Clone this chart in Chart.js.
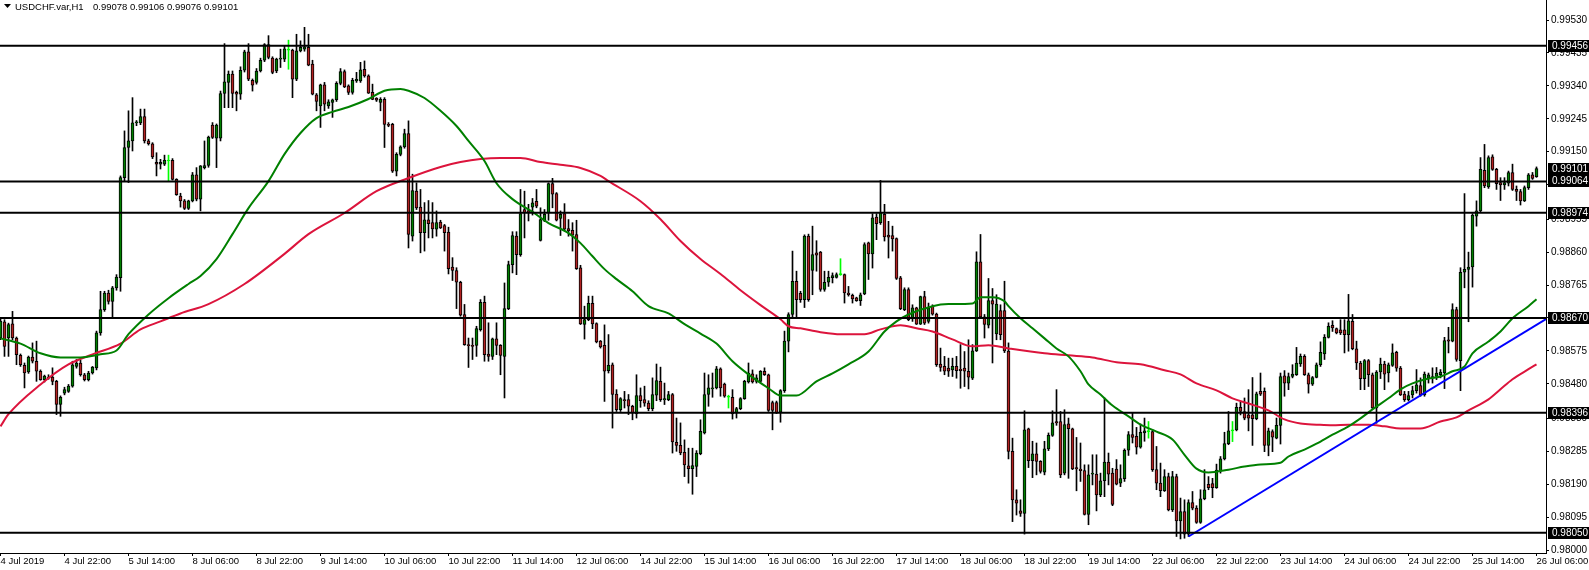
<!DOCTYPE html>
<html>
<head>
<meta charset="utf-8">
<script src="https://cdn.jsdelivr.net/npm/chart.js@4/dist/chart.umd.min.js"></script>
<style>
  html, body { margin: 0; padding: 0; background: #fff; }
  canvas { display: block; }
</style>
</head>
<body>
<canvas id="chart" width="1589" height="570"></canvas>
<script>
const symbolTitle = 'USDCHF.var,H1';
const lastQuote = '0.99078 0.99106 0.99076 0.99101';

// time axis: one tick every 16 hourly bars
const xTickBars = [0, 16, 32, 48, 64, 80, 96, 112, 128, 144, 160, 176, 192,
  208, 224, 240, 256, 272, 288, 304, 320, 336, 352, 368, 384];
const xTickLabels = ['4 Jul 2019', '4 Jul 22:00', '5 Jul 14:00', '8 Jul 06:00', '8 Jul 22:00',
  '9 Jul 14:00', '10 Jul 06:00', '10 Jul 22:00', '11 Jul 14:00', '12 Jul 06:00', '14 Jul 22:00',
  '15 Jul 14:00', '16 Jul 06:00', '16 Jul 22:00', '17 Jul 14:00', '18 Jul 06:00', '18 Jul 22:00',
  '19 Jul 14:00', '22 Jul 06:00', '22 Jul 22:00', '23 Jul 14:00', '24 Jul 06:00', '24 Jul 22:00',
  '25 Jul 14:00', '26 Jul 06:00'];

const yTickValues = [0.99530, 0.99435, 0.99340, 0.99245, 0.99150, 0.99055, 0.98955, 0.98860,
  0.98765, 0.98670, 0.98575, 0.98480, 0.98380, 0.98285, 0.98190, 0.98095, 0.98000];
const yTickLabels = ['0.99530', '0.99435', '0.99340', '0.99245', '0.99150', '0.99055', '0.98955',
  '0.98860', '0.98765', '0.98670', '0.98575', '0.98480', '0.98380', '0.98285', '0.98190',
  '0.98095', '0.98000'];

// horizontal levels and current bid
const levelPrices = [0.99456, 0.99064, 0.98974, 0.98670, 0.98396, 0.98050];
const bidPrice = 0.99101;

// H1 candles
const openP = [
  0.98612,0.98659,0.98612,0.98653,0.98612,0.98562,0.98533,0.98514,0.98557,0.98545,
  0.98516,0.98492,0.98499,0.98499,0.98487,0.98420,0.98453,0.98458,0.98473,0.98530,
  0.98540,0.98506,0.98492,0.98511,0.98526,0.98627,0.98694,0.98742,0.98718,0.98757,
  0.98786,0.99075,0.99162,0.99181,0.99233,0.99233,0.99251,0.99181,0.99173,0.99119,
  0.99114,0.99114,0.99123,0.99125,0.99070,0.99022,0.99008,0.98986,0.99008,0.99083,
  0.99013,0.99104,0.99110,0.99227,0.99189,0.99189,0.99318,0.99350,0.99374,0.99321,
  0.99316,0.99385,0.99438,0.99356,0.99350,0.99383,0.99414,0.99459,0.99420,0.99383,
  0.99417,0.99417,0.99443,0.99443,0.99359,0.99441,0.99446,0.99451,0.99403,0.99314,
  0.99282,0.99343,0.99282,0.99292,0.99300,0.99347,0.99381,0.99340,0.99321,0.99354,
  0.99354,0.99388,0.99369,0.99321,0.99304,0.99292,0.99301,0.99229,0.99229,0.99094,
  0.99142,0.99164,0.99202,0.98906,0.99036,0.98990,0.98916,0.98953,0.98945,0.98926,
  0.98947,0.98937,0.98918,0.98817,0.98807,0.98773,0.98680,0.98593,0.98591,0.98591,
  0.98636,0.98715,0.98566,0.98559,0.98610,0.98591,0.98559,0.98697,0.98824,0.98906,
  0.98853,0.98983,0.98980,0.98990,0.99007,0.98894,0.98950,0.98974,0.99058,0.99029,
  0.98957,0.98971,0.98928,0.98923,0.98911,0.98815,0.98651,0.98665,0.98712,0.98654,
  0.98603,0.98591,0.98518,0.98535,0.98450,0.98405,0.98434,0.98434,0.98415,0.98393,
  0.98446,0.98434,0.98424,0.98408,0.98447,0.98487,0.98433,0.98434,0.98449,0.98311,
  0.98302,0.98282,0.98243,0.98235,0.98241,0.98278,0.98338,0.98449,0.98465,0.98468,
  0.98523,0.98479,0.98441,0.98441,0.98396,0.98408,0.98437,0.98485,0.98509,0.98487,
  0.98487,0.98516,0.98506,0.98426,0.98426,0.98398,0.98460,0.98603,0.98680,0.98776,
  0.98741,0.98723,0.98906,0.98807,0.98858,0.98860,0.98752,0.98773,0.98786,0.98787,
  0.98795,0.98795,0.98742,0.98735,0.98728,0.98720,0.98739,0.98887,0.98855,0.98961,
  0.98945,0.98969,0.98909,0.98908,0.98899,0.98786,0.98694,0.98752,0.98670,0.98699,
  0.98652,0.98732,0.98660,0.98704,0.98681,0.98537,0.98530,0.98525,0.98520,0.98530,
  0.98522,0.98525,0.98516,0.98496,0.98575,0.98832,0.98673,0.98649,0.98720,0.98624,
  0.98691,0.98691,0.98574,0.98285,0.98145,0.98113,0.98106,0.98350,0.98258,0.98278,
  0.98256,0.98225,0.98292,0.98331,0.98371,0.98371,0.98222,0.98364,0.98350,0.98238,
  0.98234,0.98229,0.98103,0.98219,0.98219,0.98159,0.98200,0.98254,0.98222,0.98234,
  0.98193,0.98206,0.98288,0.98333,0.98328,0.98297,0.98338,0.98342,0.98342,0.98232,
  0.98193,0.98171,0.98212,0.98116,0.98212,0.98084,0.98111,0.98046,0.98137,0.98121,
  0.98080,0.98148,0.98190,0.98192,0.98180,0.98229,0.98263,0.98307,0.98344,0.98347,
  0.98412,0.98400,0.98390,0.98390,0.98379,0.98458,0.98458,0.98302,0.98342,0.98323,
  0.98360,0.98503,0.98482,0.98501,0.98506,0.98537,0.98559,0.98506,0.98479,0.98498,
  0.98535,0.98566,0.98614,0.98649,0.98639,0.98636,0.98636,0.98622,0.98660,0.98581,
  0.98540,0.98495,0.98547,0.98506,0.98410,0.98514,0.98537,0.98511,0.98533,0.98571,
  0.98525,0.98450,0.98434,0.98448,0.98460,0.98475,0.98448,0.98497,0.98497,0.98501,
  0.98506,0.98511,0.98607,0.98603,0.98694,0.98547,0.98802,0.98810,0.98817,0.98964,
  0.98979,0.99096,0.99048,0.99135,0.99099,0.99061,0.99054,0.99059,0.99090,0.99041,
  0.99035,0.99008,0.99046,0.99083,0.99078
];
const highP = [
  0.98670,0.98665,0.98655,0.98689,0.98615,0.98566,0.98540,0.98560,0.98598,0.98603,
  0.98520,0.98505,0.98506,0.98526,0.98490,0.98445,0.98470,0.98478,0.98545,0.98550,
  0.98548,0.98510,0.98516,0.98530,0.98632,0.98747,0.98747,0.98750,0.98761,0.98795,
  0.99080,0.99210,0.99268,0.99306,0.99240,0.99273,0.99273,0.99186,0.99176,0.99147,
  0.99128,0.99140,0.99140,0.99130,0.99072,0.99030,0.99012,0.99010,0.99090,0.99104,
  0.99110,0.99181,0.99195,0.99234,0.99230,0.99325,0.99462,0.99383,0.99383,0.99325,
  0.99395,0.99443,0.99462,0.99360,0.99390,0.99420,0.99462,0.99485,0.99424,0.99420,
  0.99446,0.99455,0.99472,0.99446,0.99489,0.99470,0.99509,0.99489,0.99414,0.99318,
  0.99345,0.99350,0.99300,0.99302,0.99352,0.99390,0.99386,0.99343,0.99362,0.99379,
  0.99408,0.99412,0.99372,0.99345,0.99306,0.99306,0.99306,0.99234,0.99232,0.99147,
  0.99167,0.99215,0.99239,0.99085,0.99060,0.99041,0.99003,0.99009,0.99003,0.98979,
  0.98952,0.98940,0.98932,0.98844,0.98815,0.98776,0.98709,0.98612,0.98612,0.98646,
  0.98723,0.98733,0.98656,0.98612,0.98656,0.98593,0.98771,0.98834,0.98919,0.98919,
  0.99041,0.99036,0.98998,0.99015,0.99041,0.98988,0.98983,0.99060,0.99073,0.99032,
  0.98979,0.99000,0.98954,0.98945,0.98952,0.98822,0.98704,0.98733,0.98733,0.98656,
  0.98605,0.98650,0.98622,0.98540,0.98463,0.98440,0.98458,0.98449,0.98418,0.98506,
  0.98468,0.98473,0.98431,0.98497,0.98537,0.98528,0.98482,0.98458,0.98452,0.98381,
  0.98367,0.98318,0.98294,0.98294,0.98287,0.98376,0.98511,0.98506,0.98511,0.98530,
  0.98526,0.98482,0.98447,0.98463,0.98412,0.98440,0.98490,0.98540,0.98520,0.98506,
  0.98518,0.98526,0.98508,0.98430,0.98430,0.98463,0.98632,0.98685,0.98863,0.98805,
  0.98747,0.98910,0.98912,0.98935,0.98893,0.98862,0.98805,0.98805,0.98800,0.98800,
  0.98841,0.98797,0.98761,0.98739,0.98730,0.98742,0.98887,0.98889,0.98971,0.98971,
  0.99067,0.98998,0.98949,0.98935,0.98901,0.98790,0.98757,0.98757,0.98708,0.98701,
  0.98733,0.98747,0.98713,0.98708,0.98684,0.98583,0.98559,0.98554,0.98554,0.98559,
  0.98593,0.98573,0.98607,0.98593,0.98861,0.98911,0.98680,0.98784,0.98755,0.98737,
  0.98708,0.98776,0.98598,0.98323,0.98174,0.98145,0.98402,0.98352,0.98314,0.98309,
  0.98258,0.98314,0.98338,0.98402,0.98463,0.98400,0.98405,0.98381,0.98352,0.98325,
  0.98309,0.98246,0.98246,0.98275,0.98275,0.98222,0.98439,0.98280,0.98236,0.98261,
  0.98246,0.98292,0.98342,0.98395,0.98354,0.98364,0.98381,0.98371,0.98347,0.98299,
  0.98251,0.98232,0.98222,0.98227,0.98219,0.98150,0.98145,0.98145,0.98169,0.98128,
  0.98174,0.98232,0.98212,0.98207,0.98248,0.98270,0.98340,0.98400,0.98371,0.98424,
  0.98427,0.98439,0.98463,0.98498,0.98456,0.98511,0.98468,0.98352,0.98347,0.98381,
  0.98511,0.98518,0.98511,0.98535,0.98585,0.98566,0.98564,0.98511,0.98501,0.98540,
  0.98601,0.98622,0.98656,0.98662,0.98641,0.98665,0.98665,0.98738,0.98680,0.98603,
  0.98545,0.98550,0.98550,0.98511,0.98518,0.98554,0.98545,0.98540,0.98595,0.98574,
  0.98530,0.98458,0.98458,0.98473,0.98521,0.98497,0.98514,0.98511,0.98526,0.98527,
  0.98521,0.98614,0.98643,0.98711,0.98701,0.98815,0.99029,0.98860,0.98971,0.99008,
  0.99133,0.99171,0.99138,0.99141,0.99102,0.99075,0.99075,0.99094,0.99114,0.99051,
  0.99041,0.99051,0.99087,0.99090,0.99106
];
const lowP = [
  0.98607,0.98559,0.98559,0.98607,0.98535,0.98530,0.98468,0.98510,0.98540,0.98487,
  0.98490,0.98485,0.98493,0.98477,0.98391,0.98386,0.98448,0.98455,0.98470,0.98525,
  0.98502,0.98488,0.98488,0.98508,0.98520,0.98620,0.98689,0.98710,0.98670,0.98750,
  0.98747,0.99065,0.99061,0.99152,0.99225,0.99228,0.99175,0.99169,0.99130,0.99080,
  0.99100,0.99110,0.99065,0.99068,0.99024,0.98990,0.98983,0.98983,0.99005,0.99008,
  0.98979,0.99100,0.99105,0.99188,0.99104,0.99181,0.99277,0.99277,0.99277,0.99268,
  0.99301,0.99380,0.99355,0.99325,0.99345,0.99380,0.99410,0.99418,0.99375,0.99378,
  0.99393,0.99410,0.99388,0.99306,0.99355,0.99438,0.99440,0.99398,0.99314,0.99268,
  0.99220,0.99268,0.99275,0.99249,0.99295,0.99343,0.99335,0.99315,0.99316,0.99350,
  0.99350,0.99365,0.99318,0.99300,0.99295,0.99268,0.99162,0.99222,0.99090,0.99080,
  0.99138,0.99160,0.98872,0.98892,0.98983,0.98858,0.98863,0.98901,0.98901,0.98906,
  0.98928,0.98863,0.98797,0.98778,0.98697,0.98675,0.98591,0.98527,0.98550,0.98559,
  0.98632,0.98545,0.98545,0.98550,0.98564,0.98506,0.98439,0.98694,0.98800,0.98795,
  0.98848,0.98901,0.98950,0.98967,0.98988,0.98892,0.98948,0.98952,0.98988,0.98950,
  0.98908,0.98923,0.98906,0.98863,0.98810,0.98651,0.98609,0.98662,0.98639,0.98598,
  0.98583,0.98429,0.98511,0.98352,0.98400,0.98400,0.98410,0.98391,0.98376,0.98381,
  0.98412,0.98415,0.98402,0.98402,0.98431,0.98429,0.98420,0.98431,0.98280,0.98285,
  0.98275,0.98212,0.98193,0.98161,0.98212,0.98275,0.98335,0.98415,0.98441,0.98465,
  0.98444,0.98441,0.98410,0.98378,0.98381,0.98405,0.98435,0.98482,0.98482,0.98482,
  0.98484,0.98504,0.98400,0.98347,0.98394,0.98369,0.98455,0.98572,0.98670,0.98670,
  0.98715,0.98700,0.98718,0.98737,0.98805,0.98747,0.98747,0.98761,0.98771,0.98785,
  0.98793,0.98713,0.98733,0.98713,0.98718,0.98706,0.98737,0.98781,0.98814,0.98896,
  0.98940,0.98892,0.98843,0.98863,0.98781,0.98694,0.98691,0.98662,0.98660,0.98651,
  0.98651,0.98651,0.98655,0.98678,0.98530,0.98516,0.98506,0.98501,0.98501,0.98496,
  0.98467,0.98472,0.98465,0.98492,0.98573,0.98670,0.98612,0.98641,0.98540,0.98607,
  0.98607,0.98570,0.98263,0.98082,0.98101,0.98097,0.98046,0.98238,0.98209,0.98217,
  0.98222,0.98217,0.98287,0.98328,0.98360,0.98209,0.98217,0.98207,0.98232,0.98171,
  0.98198,0.98101,0.98073,0.98188,0.98113,0.98154,0.98154,0.98188,0.98128,0.98188,
  0.98183,0.98198,0.98273,0.98309,0.98277,0.98294,0.98314,0.98323,0.98227,0.98174,
  0.98154,0.98169,0.98113,0.98111,0.98039,0.98032,0.98034,0.98039,0.98116,0.98077,
  0.98077,0.98145,0.98174,0.98151,0.98178,0.98222,0.98260,0.98304,0.98313,0.98344,
  0.98390,0.98376,0.98344,0.98302,0.98376,0.98446,0.98284,0.98272,0.98284,0.98321,
  0.98306,0.98444,0.98463,0.98497,0.98504,0.98530,0.98504,0.98453,0.98475,0.98497,
  0.98530,0.98550,0.98612,0.98631,0.98624,0.98622,0.98569,0.98574,0.98578,0.98521,
  0.98463,0.98463,0.98472,0.98408,0.98366,0.98495,0.98463,0.98485,0.98530,0.98516,
  0.98446,0.98429,0.98430,0.98439,0.98453,0.98444,0.98444,0.98482,0.98482,0.98492,
  0.98497,0.98466,0.98569,0.98601,0.98545,0.98460,0.98757,0.98659,0.98759,0.98935,
  0.98974,0.99046,0.99044,0.99096,0.99041,0.99009,0.99041,0.99051,0.99038,0.99009,
  0.98996,0.99006,0.99041,0.99070,0.99076
];
const closeP = [
  0.98661,0.98588,0.98651,0.98612,0.98564,0.98535,0.98511,0.98557,0.98545,0.98516,
  0.98492,0.98502,0.98496,0.98487,0.98420,0.98441,0.98463,0.98473,0.98535,0.98540,
  0.98506,0.98492,0.98511,0.98528,0.98627,0.98694,0.98742,0.98718,0.98757,0.98788,
  0.99075,0.99162,0.99181,0.99233,0.99236,0.99251,0.99181,0.99173,0.99135,0.99114,
  0.99119,0.99125,0.99123,0.99070,0.99026,0.99008,0.98986,0.99008,0.99083,0.99013,
  0.99109,0.99110,0.99192,0.99191,0.99227,0.99318,0.99352,0.99374,0.99318,0.99316,
  0.99385,0.99438,0.99359,0.99342,0.99383,0.99414,0.99459,0.99422,0.99379,0.99417,
  0.99420,0.99447,0.99443,0.99359,0.99441,0.99451,0.99453,0.99400,0.99316,0.99295,
  0.99343,0.99287,0.99294,0.99300,0.99347,0.99381,0.99337,0.99321,0.99356,0.99359,
  0.99386,0.99369,0.99319,0.99301,0.99299,0.99301,0.99229,0.99226,0.99094,0.99142,
  0.99164,0.99202,0.98911,0.99038,0.98988,0.98916,0.98953,0.98942,0.98927,0.98945,
  0.98930,0.98916,0.98812,0.98807,0.98773,0.98678,0.98593,0.98590,0.98588,0.98639,
  0.98715,0.98564,0.98559,0.98610,0.98591,0.98562,0.98697,0.98824,0.98908,0.98853,
  0.98971,0.98974,0.98974,0.99002,0.98993,0.98954,0.98969,0.99058,0.99027,0.98952,
  0.98969,0.98926,0.98921,0.98909,0.98812,0.98653,0.98665,0.98712,0.98653,0.98601,
  0.98586,0.98516,0.98533,0.98449,0.98405,0.98437,0.98431,0.98415,0.98396,0.98446,
  0.98431,0.98424,0.98408,0.98449,0.98489,0.98434,0.98437,0.98449,0.98312,0.98302,
  0.98280,0.98246,0.98235,0.98244,0.98280,0.98343,0.98449,0.98468,0.98468,0.98523,
  0.98468,0.98444,0.98441,0.98393,0.98408,0.98437,0.98487,0.98511,0.98485,0.98497,
  0.98516,0.98506,0.98403,0.98403,0.98396,0.98460,0.98603,0.98680,0.98776,0.98723,
  0.98723,0.98906,0.98723,0.98853,0.98851,0.98752,0.98773,0.98787,0.98792,0.98795,
  0.98795,0.98742,0.98737,0.98725,0.98720,0.98737,0.98882,0.98855,0.98959,0.98942,
  0.98974,0.98904,0.98903,0.98898,0.98784,0.98697,0.98752,0.98665,0.98699,0.98652,
  0.98732,0.98655,0.98699,0.98681,0.98535,0.98527,0.98516,0.98516,0.98530,0.98518,
  0.98518,0.98516,0.98499,0.98575,0.98832,0.98673,0.98651,0.98720,0.98710,0.98710,
  0.98622,0.98575,0.98285,0.98145,0.98135,0.98106,0.98347,0.98258,0.98278,0.98256,
  0.98227,0.98292,0.98331,0.98367,0.98367,0.98217,0.98362,0.98350,0.98234,0.98234,
  0.98229,0.98103,0.98217,0.98222,0.98159,0.98200,0.98254,0.98219,0.98132,0.98190,
  0.98206,0.98288,0.98333,0.98325,0.98297,0.98340,0.98344,0.98342,0.98232,0.98193,
  0.98171,0.98212,0.98116,0.98212,0.98084,0.98111,0.98046,0.98137,0.98121,0.98080,
  0.98148,0.98174,0.98180,0.98180,0.98231,0.98263,0.98307,0.98344,0.98344,0.98412,
  0.98400,0.98381,0.98381,0.98379,0.98451,0.98450,0.98302,0.98344,0.98326,0.98360,
  0.98501,0.98482,0.98501,0.98508,0.98540,0.98559,0.98506,0.98479,0.98498,0.98535,
  0.98571,0.98614,0.98646,0.98641,0.98627,0.98627,0.98622,0.98662,0.98581,0.98540,
  0.98495,0.98547,0.98506,0.98410,0.98514,0.98537,0.98508,0.98535,0.98569,0.98525,
  0.98448,0.98434,0.98446,0.98460,0.98477,0.98448,0.98508,0.98506,0.98501,0.98511,
  0.98514,0.98605,0.98603,0.98694,0.98550,0.98802,0.98810,0.98817,0.98967,0.98979,
  0.99099,0.99051,0.99133,0.99099,0.99058,0.99054,0.99061,0.99090,0.99041,0.99035,
  0.99008,0.99046,0.99083,0.99073,0.99101
];

// moving averages at these bars
const fastMaBars = [0,5,10,15,20,25,29,32,37,42,47,50,54,58,62,67,71,75,79,83,
  87,92,96,100,102,106,110,114,117,121,124,128,133,137,142,145,148,151,154,158,
  162,167,171,175,179,183,187,192,195,199,204,208,212,217,221,224,227,233,237,243,
  245,248,251,252,255,258,261,264,267,270,272,275,278,282,285,289,293,296,299,302,
  307,311,315,320,322,326,329,333,337,340,343,347,350,353,357,360,363,366,368,372,
  375,378,382,384];
const fastMaValues = [0.98611,0.98596,0.98568,0.98556,0.98556,0.98565,0.98576,0.98623,0.98680,0.98727,
  0.98768,0.98791,0.98840,0.98912,0.98987,0.99065,0.99143,0.99204,0.99247,0.99265,
  0.99279,0.99302,0.99326,0.99331,0.99326,0.99305,0.99268,0.99224,0.99181,0.99123,
  0.99059,0.99013,0.98976,0.98944,0.98915,0.98886,0.98848,0.98811,0.98782,0.98747,
  0.98704,0.98683,0.98652,0.98625,0.98596,0.98545,0.98507,0.98467,0.98446,0.98446,
  0.98487,0.98510,0.98536,0.98573,0.98631,0.98660,0.98680,0.98704,0.98710,0.98712,
  0.98730,0.98730,0.98718,0.98704,0.98669,0.98640,0.98611,0.98582,0.98559,0.98516,
  0.98478,0.98449,0.98417,0.98386,0.98362,0.98342,0.98319,0.98275,0.98235,0.98224,
  0.98232,0.98241,0.98247,0.98252,0.98270,0.98290,0.98307,0.98333,0.98357,0.98380,
  0.98406,0.98438,0.98464,0.98481,0.98495,0.98501,0.98516,0.98530,0.98568,0.98602,
  0.98631,0.98669,0.98704,0.98724];

const slowMaBars = [0,2,10,17,23,30,35,40,45,52,61,71,77,86,94,102,110,115,120,125,
  130,135,140,145,150,152,160,165,170,175,180,185,190,195,197,200,205,210,216,220,
  225,229,233,238,243,247,252,261,267,273,279,285,291,295,299,304,308,312,317,321,
  325,329,333,337,342,346,350,355,360,364,367,372,375,378,382,384];
const slowMaValues = [0.98357,0.98392,0.98478,0.98536,0.98565,0.98596,0.98637,0.98660,0.98683,0.98710,
  0.98768,0.98855,0.98912,0.98973,0.99036,0.99074,0.99106,0.99120,0.99129,0.99132,
  0.99132,0.99120,0.99112,0.99103,0.99080,0.99065,0.99007,0.98955,0.98892,0.98840,
  0.98797,0.98750,0.98707,0.98666,0.98646,0.98640,0.98629,0.98623,0.98623,0.98637,
  0.98649,0.98640,0.98631,0.98608,0.98588,0.98591,0.98582,0.98568,0.98562,0.98556,
  0.98542,0.98536,0.98519,0.98507,0.98481,0.98461,0.98438,0.98423,0.98403,0.98377,
  0.98365,0.98362,0.98360,0.98362,0.98362,0.98357,0.98351,0.98351,0.98371,0.98383,
  0.98403,0.98435,0.98464,0.98493,0.98522,0.98536];

// trend line from the 22 Jul low
const trendBars = [297, 386.375];
const trendValues = [0.98039, 0.98667];

const xMin = -0.125, xMax = 386.375;
const yMin = 0.979914, yMax = 0.995879;

const fontFamily = '"Liberation Sans", Arial, sans-serif';
Chart.defaults.font.family = fontFamily;
Chart.defaults.color = '#000';

const bullColor = '#008000';
const bearColor = '#b22222';
const dojiColor = '#00ff00';

const candleColor = i => closeP[i] > openP[i] ? bullColor : (closeP[i] < openP[i] ? bearColor : dojiColor);
const isDoji = i => closeP[i] === openP[i];

const idx = openP.map((_, i) => i);

const levelSets = levelPrices.map(v => ({
  type: 'line',
  data: [{ x: xMin, y: v }, { x: xMax, y: v }],
  borderColor: '#000',
  borderWidth: 2,
  pointRadius: 0,
  order: 0
}));

const overlay = {
  id: 'overlay',
  afterDraw(chart) {
    const { ctx, chartArea } = chart;
    const y = chart.scales.y;
    ctx.save();
    ctx.fillStyle = '#000';
    ctx.beginPath();
    ctx.moveTo(4, 4); ctx.lineTo(11, 4); ctx.lineTo(7.5, 8);
    ctx.closePath();
    ctx.fill();
    ctx.font = '9.5px ' + fontFamily;
    ctx.textBaseline = 'middle';
    ctx.textAlign = 'left';
    ctx.fillText(symbolTitle, 15, 7);
    ctx.fillText(lastQuote, 93, 7);

    ctx.font = '10px ' + fontFamily;
    [...levelPrices, bidPrice].forEach(v => {
      const py = Math.round(y.getPixelForValue(v));
      ctx.fillStyle = '#000';
      ctx.fillRect(chartArea.right + 2, py - 6, chart.width - chartArea.right - 2, 12);
      ctx.fillStyle = '#fff';
      ctx.fillText(v.toFixed(5), chartArea.right + 6, py + 0.5);
    });
    ctx.restore();
  }
};

new Chart(document.getElementById('chart'), {
  type: 'bar',
  data: {
    datasets: [
      ...levelSets,
      {
        type: 'line',
        data: trendBars.map((b, k) => ({ x: b, y: trendValues[k] })),
        borderColor: '#0000ff',
        borderWidth: 2,
        pointRadius: 0,
        order: 1
      },
      {
        type: 'line',
        data: fastMaBars.map((b, k) => ({ x: b, y: fastMaValues[k] })),
        borderColor: '#008000',
        borderWidth: 2,
        pointRadius: 0,
        cubicInterpolationMode: 'monotone',
        order: 2
      },
      {
        type: 'line',
        data: slowMaBars.map((b, k) => ({ x: b, y: slowMaValues[k] })),
        borderColor: '#dc143c',
        borderWidth: 2,
        pointRadius: 0,
        cubicInterpolationMode: 'monotone',
        order: 2
      },
      {
        type: 'bar',
        data: idx.map(i => ({ x: i, y: [openP[i], closeP[i]] })),
        backgroundColor: idx.map(candleColor),
        borderColor: idx.map(i => isDoji(i) ? dojiColor : '#000'),
        borderWidth: 1,
        borderSkipped: false,
        barThickness: 3,
        minBarLength: 1,
        grouped: false,
        order: 3
      },
      {
        type: 'bar',
        data: idx.map(i => ({ x: i, y: [lowP[i], highP[i]] })),
        backgroundColor: idx.map(i => isDoji(i) ? dojiColor : '#000'),
        borderWidth: 0,
        barThickness: 1,
        grouped: false,
        order: 4
      }
    ]
  },
  options: {
    responsive: false,
    animation: false,
    layout: { padding: 0 },
    plugins: {
      legend: { display: false },
      tooltip: { enabled: false }
    },
    scales: {
      x: {
        type: 'linear',
        position: 'bottom',
        min: xMin,
        max: xMax,
        offset: false,
        afterBuildTicks: s => { s.ticks = xTickBars.map(v => ({ value: v })); },
        afterFit: s => { s.height = 17; s.paddingLeft = 0; s.paddingRight = 0; },
        grid: { display: true, offset: false, drawOnChartArea: false, drawTicks: true, tickLength: 3, color: '#000' },
        border: { display: true, color: '#000', width: 1 },
        ticks: {
          autoSkip: false,
          maxRotation: 0,
          minRotation: 0,
          align: 'start',
          padding: 0,
          font: { size: 9.5 },
          color: '#000',
          callback: (v, i) => xTickLabels[i]
        }
      },
      y: {
        type: 'linear',
        position: 'right',
        min: yMin,
        max: yMax,
        beginAtZero: false,
        afterBuildTicks: s => { s.ticks = yTickValues.map(v => ({ value: v })); },
        afterFit: s => { s.width = 43; s.paddingTop = 0; s.paddingBottom = 0; },
        grid: { display: true, drawOnChartArea: false, drawTicks: true, tickLength: 3, color: '#000' },
        border: { display: true, color: '#000', width: 1 },
        ticks: {
          padding: 2,
          font: { size: 10 },
          color: '#000',
          callback: (v, i) => yTickLabels[i]
        }
      }
    }
  },
  plugins: [overlay]
});
</script>
</body>
</html>
